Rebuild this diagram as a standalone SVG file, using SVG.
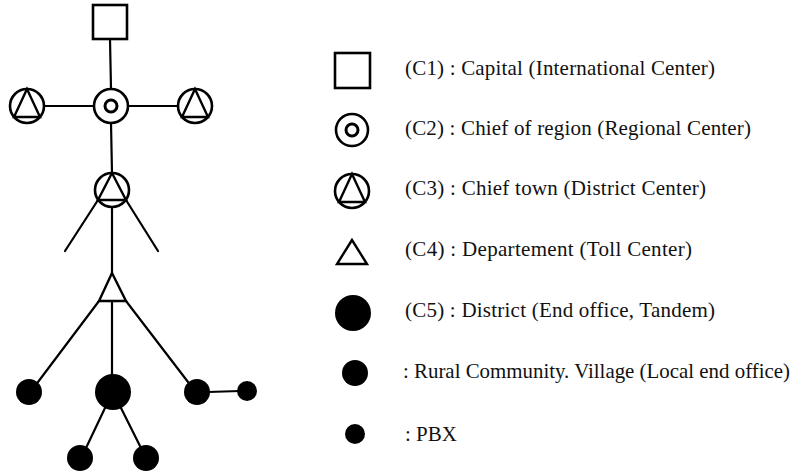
<svg xmlns="http://www.w3.org/2000/svg" width="792" height="472" viewBox="0 0 792 472">
<style>
.ln{stroke:#000;stroke-width:2.2;fill:none;stroke-linecap:round}
.sym{stroke:#000;stroke-width:2.6;fill:#fff}
.tri{stroke:#000;stroke-width:2.4;fill:none;stroke-linejoin:miter}
.dot{fill:#000}
.lbl{font-family:"Liberation Serif",serif;font-size:21px;fill:#111}
</style>
<rect width="792" height="472" fill="#fff"/>
<g id="connectors">
<line class="ln" x1="110" y1="39" x2="111" y2="89"/>
<line class="ln" x1="44" y1="106" x2="94" y2="106"/>
<line class="ln" x1="128" y1="106" x2="178" y2="106"/>
<line class="ln" x1="111" y1="123" x2="112" y2="173"/>
<line class="ln" x1="98" y1="200" x2="65" y2="251"/>
<line class="ln" x1="126" y1="200" x2="158" y2="251"/>
<line class="ln" x1="112" y1="207" x2="112" y2="273"/>
<line class="ln" x1="99" y1="301" x2="38" y2="382"/>
<line class="ln" x1="112" y1="301" x2="112" y2="375"/>
<line class="ln" x1="126" y1="301" x2="188" y2="382"/>
<line class="ln" x1="208" y1="392" x2="240" y2="391"/>
<line class="ln" x1="105" y1="408" x2="86" y2="448"/>
<line class="ln" x1="121" y1="408" x2="141" y2="448"/>
</g>
<g id="capital"><rect class="sym" x="93" y="5" width="34" height="34"/></g>
<g id="regional"><circle class="sym" cx="111" cy="106" r="17"/><circle class="sym" cx="111" cy="106" r="6" style="stroke-width:3"/></g>
<g id="district-left"><circle class="sym" cx="27" cy="106" r="17"/><polygon class="tri" points="27,89 14,117 40,117"/></g>
<g id="district-right"><circle class="sym" cx="195" cy="106" r="17"/><polygon class="tri" points="195,89 182,117 208,117"/></g>
<g id="district-center"><circle class="sym" cx="112" cy="190" r="17"/><polygon class="tri" points="112,173 98,200 126,200"/></g>
<g id="toll"><polygon class="tri" points="112,273 99,301 126,301"/></g>
<g id="end-left"><circle class="dot" cx="29" cy="392" r="13"/></g>
<g id="end-center"><circle class="dot" cx="113" cy="392" r="18"/></g>
<g id="end-right"><circle class="dot" cx="197" cy="392" r="13"/></g>
<g id="pbx"><circle class="dot" cx="247" cy="391" r="10"/></g>
<g id="village-left"><circle class="dot" cx="80" cy="458" r="13"/></g>
<g id="village-right"><circle class="dot" cx="146" cy="458" r="13"/></g>
<g id="legend">
<g id="leg-c1"><rect class="sym" x="335" y="53" width="35" height="35"/><text class="lbl" x="405" y="75" textLength="310" lengthAdjust="spacing">(C1) : Capital (International Center)</text></g>
<g id="leg-c2"><circle class="sym" cx="352" cy="130" r="16"/><circle class="sym" cx="352" cy="130" r="6" style="stroke-width:3"/><text class="lbl" x="405" y="135" textLength="346" lengthAdjust="spacing">(C2) : Chief of region (Regional Center)</text></g>
<g id="leg-c3"><circle class="sym" cx="352" cy="191" r="17"/><polygon class="tri" points="352,174 339,202 365,202"/><text class="lbl" x="405" y="195" textLength="301" lengthAdjust="spacing">(C3) : Chief town (District Center)</text></g>
<g id="leg-c4"><polygon class="tri" points="352,240 337,264 367,264"/><text class="lbl" x="405" y="256" textLength="287" lengthAdjust="spacing">(C4) : Departement (Toll Center)</text></g>
<g id="leg-c5"><circle class="dot" cx="353" cy="313" r="18"/><text class="lbl" x="405" y="317" textLength="310" lengthAdjust="spacing">(C5) : District (End office, Tandem)</text></g>
<g id="leg-village"><circle class="dot" cx="355" cy="373" r="13"/><text class="lbl" x="403" y="378" textLength="387" lengthAdjust="spacingAndGlyphs">: Rural Community. Village (Local end office)</text></g>
<g id="leg-pbx"><circle class="dot" cx="355" cy="434" r="10"/><text class="lbl" x="405" y="441">: PBX</text></g>
</g>
</svg>
